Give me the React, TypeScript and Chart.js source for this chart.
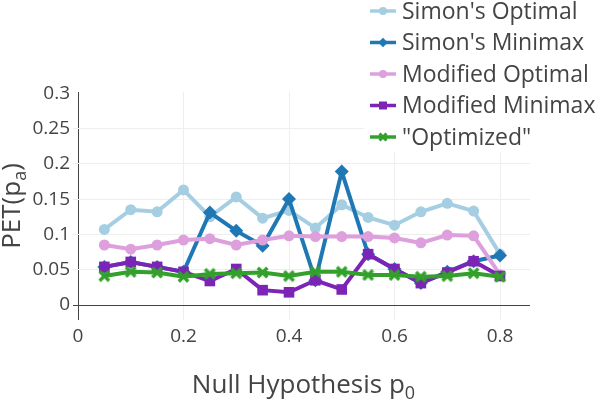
import { useEffect, useRef } from "react";
import { Chart, registerables } from "chart.js";

Chart.register(...registerables);

// Null hypothesis response rates
const pValues = [0.05, 0.1, 0.15, 0.2, 0.25, 0.3, 0.35, 0.4, 0.45, 0.5, 0.55, 0.6, 0.65, 0.7, 0.75, 0.8];

// Probability of early termination under p_a, per design
const simonsOptimal = [0.107, 0.135, 0.132, 0.163, 0.125, 0.153, 0.123, 0.134, 0.109, 0.142, 0.124, 0.113, 0.132, 0.144, 0.133, 0.072];
const simonsMinimax = [0.054, 0.061, 0.054, 0.047, 0.131, 0.105, 0.084, 0.150, 0.035, 0.189, 0.072, 0.051, 0.031, 0.047, 0.062, 0.070];
const modifiedOptimal = [0.085, 0.079, 0.085, 0.092, 0.094, 0.085, 0.092, 0.098, 0.097, 0.097, 0.097, 0.095, 0.088, 0.099, 0.098, 0.043];
const modifiedMinimax = [0.054, 0.061, 0.054, 0.047, 0.034, 0.051, 0.021, 0.018, 0.035, 0.022, 0.072, 0.051, 0.031, 0.046, 0.062, 0.041];
const optimized = [0.041, 0.047, 0.046, 0.040, 0.044, 0.045, 0.046, 0.041, 0.047, 0.047, 0.0425, 0.0425, 0.040, 0.041, 0.045, 0.040];

const seriesNames = ["Simon's Optimal", "Simon's Minimax", "Modified Optimal", "Modified Minimax", '"Optimized"'];
const seriesColors = ["#a6cee3", "#1f78b4", "#dda0dd", "#7b24b5", "#33a02c"];
const seriesMarkers = ["circle", "diamond", "circle", "square", "x"];

const xTicks = [0, 0.2, 0.4, 0.6, 0.8];
const yTicks = [0, 0.05, 0.1, 0.15, 0.2, 0.25, 0.3];

const FONT = '"Open Sans", "DejaVu Sans", sans-serif';
const TEXT = "#444";

function xMarkerImage(size: number, color: string, thickness: number) {
  const c = document.createElement("canvas");
  c.width = size;
  c.height = size;
  const g = c.getContext("2d")!;
  const t = thickness / 2;
  g.strokeStyle = color;
  g.lineWidth = thickness;
  g.beginPath();
  g.moveTo(t, t);
  g.lineTo(size - t, size - t);
  g.moveTo(size - t, t);
  g.lineTo(t, size - t);
  g.stroke();
  return c;
}

function drawMarker(ctx: CanvasRenderingContext2D, kind: string, x: number, y: number, r: number, color: string) {
  ctx.save();
  ctx.fillStyle = color;
  ctx.strokeStyle = color;
  ctx.beginPath();
  if (kind === "circle") {
    ctx.arc(x, y, r, 0, Math.PI * 2);
    ctx.fill();
  } else if (kind === "diamond") {
    ctx.moveTo(x, y - r * 1.2);
    ctx.lineTo(x + r * 1.2, y);
    ctx.lineTo(x, y + r * 1.2);
    ctx.lineTo(x - r * 1.2, y);
    ctx.closePath();
    ctx.fill();
  } else if (kind === "square") {
    ctx.rect(x - r, y - r, r * 2, r * 2);
    ctx.fill();
  } else {
    ctx.lineWidth = 3;
    ctx.moveTo(x - r, y - r);
    ctx.lineTo(x + r, y + r);
    ctx.moveTo(x + r, y - r);
    ctx.lineTo(x - r, y + r);
    ctx.stroke();
  }
  ctx.restore();
}

// Axis titles with subscripts, and the legend box at the top right
const overlayPlugin = {
  id: "overlay",
  afterDraw(chart: any) {
    const ctx: CanvasRenderingContext2D = chart.ctx;
    const area = chart.chartArea;
    ctx.save();
    ctx.fillStyle = TEXT;
    ctx.textBaseline = "alphabetic";

    // x title: Null Hypothesis p0
    const titleSize = 26;
    const subSize = 18;
    ctx.font = `${titleSize}px ${FONT}`;
    const mainX = "Null Hypothesis p";
    const wMain = ctx.measureText(mainX).width;
    ctx.font = `${subSize}px ${FONT}`;
    const wSub = ctx.measureText("0").width;
    const cx = (area.left + area.right) / 2 + 2;
    const sx = cx - (wMain + wSub) / 2;
    ctx.textAlign = "left";
    ctx.font = `${titleSize}px ${FONT}`;
    ctx.fillText(mainX, sx, 393);
    ctx.font = `${subSize}px ${FONT}`;
    ctx.fillText("0", sx + wMain, 399);

    // y title: PET(pa)
    ctx.save();
    ctx.translate(0, (area.top + area.bottom) / 2);
    ctx.rotate(-Math.PI / 2);
    ctx.font = `${titleSize}px ${FONT}`;
    const a1 = "PET(p";
    const a3 = ")";
    const w1 = ctx.measureText(a1).width;
    const w3 = ctx.measureText(a3).width;
    ctx.font = `${subSize}px ${FONT}`;
    const w2 = ctx.measureText("a").width;
    const total = w1 + w2 + w3;
    const px = -total / 2;
    ctx.font = `${titleSize}px ${FONT}`;
    ctx.fillText(a1, px, 20);
    ctx.font = `${subSize}px ${FONT}`;
    ctx.fillText("a", px + w1, 26);
    ctx.font = `${titleSize}px ${FONT}`;
    ctx.fillText(a3, px + w1 + w2, 20);
    ctx.restore();

    // legend
    ctx.fillStyle = "#ffffff";
    ctx.fillRect(364, 0, 232, 152);
    const rowY = [11, 42.5, 74, 105.5, 137];
    seriesNames.forEach((name, i) => {
      const y = rowY[i];
      ctx.strokeStyle = seriesColors[i];
      ctx.lineWidth = 3.5;
      ctx.beginPath();
      ctx.moveTo(370, y);
      ctx.lineTo(396, y);
      ctx.stroke();
      const m = seriesMarkers[i];
      drawMarker(ctx, m, 383, y, m === "square" ? 4 : m === "x" ? 3.5 : 4, seriesColors[i]);
      ctx.fillStyle = TEXT;
      ctx.font = `23px ${FONT}`;
      ctx.textAlign = "left";
      ctx.textBaseline = "middle";
      ctx.fillText(name, 402, y + 1);
    });
    ctx.restore();
  },
};

export default function App() {
  const canvasRef = useRef<HTMLCanvasElement | null>(null);

  useEffect(() => {
    const canvas = canvasRef.current;
    if (!canvas) return;
    const values = [simonsOptimal, simonsMinimax, modifiedOptimal, modifiedMinimax, optimized];
    const xImg = xMarkerImage(13, seriesColors[4], 3.5);
    const pointStyles: any[] = ["circle", "rectRot", "circle", "rect", xImg];
    const radii = [5.5, 7, 5.5, 7.5, 6];

    const datasets = values.map((vals, i) => ({
      label: seriesNames[i],
      data: pValues.map((p, k) => ({ x: p, y: vals[k] })),
      borderColor: seriesColors[i],
      backgroundColor: seriesColors[i],
      borderWidth: 4,
      pointStyle: pointStyles[i],
      pointRadius: radii[i],
      pointBorderWidth: 0,
      pointBackgroundColor: seriesColors[i],
      pointBorderColor: seriesColors[i],
      tension: 0,
      order: values.length - i,
    }));

    const pxPerX = 527.5;
    const pxPerY = 706;
    const chart = new Chart(canvas, {
      type: "line",
      data: { datasets },
      options: {
        animation: false,
        responsive: false,
        maintainAspectRatio: false,
        layout: { padding: { top: 92, right: 66, left: 0, bottom: 0 } },
        plugins: { legend: { display: false }, tooltip: { enabled: false } },
        scales: {
          x: {
            type: "linear",
            min: -5 / pxPerX,
            max: 452 / pxPerX,
            afterBuildTicks: (s: any) => {
              s.ticks = xTicks.map((v) => ({ value: v }));
            },
            afterFit: (s: any) => {
              s.height = 80;
            },
            border: { display: false },
            grid: {
              drawTicks: false,
              lineWidth: 1,
              color: (c: any) => (c.tick && c.tick.value === 0 ? "#444" : "#eeeeee"),
            },
            ticks: {
              padding: 5,
              color: TEXT,
              font: { family: FONT, size: 19 },
              maxRotation: 0,
              autoSkip: false,
              callback: (v: any) => String(v),
            },
          },
          y: {
            type: "linear",
            min: -15 / pxPerY,
            max: 213 / pxPerY,
            afterBuildTicks: (s: any) => {
              s.ticks = yTicks.map((v) => ({ value: v }));
            },
            afterFit: (s: any) => {
              s.width = 73;
            },
            border: { display: false },
            grid: {
              drawTicks: false,
              lineWidth: 1,
              color: (c: any) => {
                const v = c.tick ? c.tick.value : null;
                if (v === 0) return "#444";
                if (v === 0.3) return "rgba(0,0,0,0)";
                return "#eeeeee";
              },
            },
            ticks: {
              padding: 3,
              color: TEXT,
              font: { family: FONT, size: 19 },
              autoSkip: false,
              callback: (v: any) => String(v),
            },
          },
        },
      },
      plugins: [overlayPlugin],
    });

    return () => chart.destroy();
  }, []);

  return (
    <div style={{ position: "fixed", left: 0, top: 0, width: 596, height: 400, background: "#fff" }}>
      <canvas ref={canvasRef} width={596} height={400} />
    </div>
  );
}
